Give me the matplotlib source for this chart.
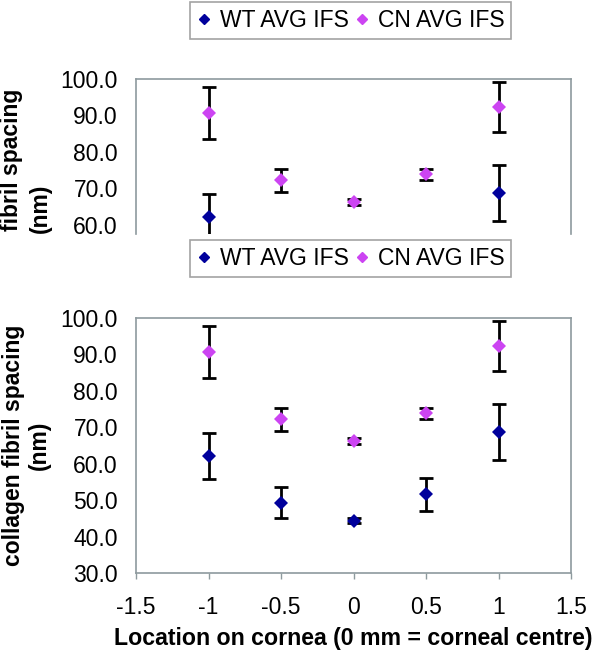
import matplotlib.pyplot as plt
from matplotlib.lines import Line2D

plt.rcParams['font.family'] = ['Liberation Sans', 'DejaVu Sans']

# data
location = [-1, -0.5, 0, 0.5, 1]
wt_ifs = [62.2, 49.3, 44.4, 51.6, 68.8]
wt_err = [6.3, 4.3, 0.8, 4.5, 7.7]
cn_ifs = [90.6, 72.2, 66.3, 73.8, 92.4]
cn_err = [7.1, 3.2, 0.8, 1.6, 6.9]
x_ticks = [-1.5, -1, -0.5, 0, 0.5, 1, 1.5]
y_ticks = [30, 40, 50, 60, 70, 80, 90, 100]
legend_labels = ['WT AVG IFS', 'CN AVG IFS']

WT_COLOR = '#00009C'
CN_COLOR = '#CC44F2'
SPINE = '#8E9A9E'
FS = 16.5

W, H = 600, 661
fig = plt.figure(figsize=(W / 100, H / 100), dpi=100, facecolor='white')


def px_box(left, top, right, bottom):
    return [left / W, 1 - bottom / H, (right - left) / W, (bottom - top) / H]


def draw_points(ax):
    ax.errorbar(location, wt_ifs, yerr=wt_err, fmt='none', ecolor='black',
                elinewidth=2, capsize=5, capthick=2, zorder=2)
    ax.errorbar(location, cn_ifs, yerr=cn_err, fmt='none', ecolor='black',
                elinewidth=2, capsize=5, capthick=2, zorder=2)
    ax.plot(location, wt_ifs, 'D', color=WT_COLOR, markersize=7,
            markeredgewidth=0, zorder=3)
    ax.plot(location, cn_ifs, 'D', color=CN_COLOR, markersize=7,
            markeredgewidth=0, zorder=3)
    ax.set_xlim(-1.5, 1.5)
    ax.set_xticks(x_ticks)
    ax.set_xticklabels([f'{v:g}' for v in x_ticks])
    ax.set_yticks(y_ticks)
    ax.set_yticklabels([f'{v:.1f}' for v in y_ticks])
    ax.tick_params(axis='y', length=0, pad=13, labelsize=FS)
    ax.tick_params(axis='x', direction='out', length=4.5, width=1,
                   color=SPINE, pad=12, labelsize=FS)
    for s in ax.spines.values():
        s.set_color(SPINE)
        s.set_linewidth(1.2)


# full chart
ax_bot = fig.add_axes(px_box(136, 318, 571, 573))
draw_points(ax_bot)
ax_bot.set_ylim(30, 100)
ax_bot.set_ylabel('collagen fibril spacing\n(nm)', fontsize=FS,
                  fontweight='bold', va='center', linespacing=1.15)
ax_bot.yaxis.set_label_coords(-0.252, 0.5)
ax_bot.set_xlabel('Location on cornea (0 mm = corneal centre)', fontsize=16.7,
                  fontweight='bold', va='center')
ax_bot.xaxis.set_label_coords(0.5, -0.255)

# top copy of the same chart, cut off just under 60
ax_top = fig.add_axes(px_box(136, 79, 571, 234))
draw_points(ax_top)
ax_top.set_ylim(100 - 155 * 70 / 255, 100)
ax_top.spines['bottom'].set_visible(False)
ax_top.tick_params(axis='x', bottom=False, labelbottom=False)
fig.text(12 / W, 1 - 231 / H, 'fibril spacing', fontsize=FS,
         fontweight='bold', rotation=90, ha='center', va='bottom')
fig.text(40 / W, 1 - 208 / H, '(nm)', fontsize=FS, fontweight='bold',
         rotation=90, ha='center', va='center')

handles = [Line2D([], [], marker='D', color=WT_COLOR, linestyle='none', markersize=5.5),
           Line2D([], [], marker='D', color=CN_COLOR, linestyle='none', markersize=5.5)]
for top_px in (2, 240):
    leg = fig.legend(handles, legend_labels, loc='upper center', ncol=2,
                     bbox_to_anchor=(350.5 / W, 1 - top_px / H),
                     fontsize=FS, frameon=True, fancybox=False,
                     edgecolor='#8C8C8C', borderpad=0.3, handlelength=0.7,
                     handletextpad=0.35, columnspacing=0.2, borderaxespad=0)
    leg.get_frame().set_linewidth(1.2)

fig.savefig('out.png', dpi=100, facecolor='white')
